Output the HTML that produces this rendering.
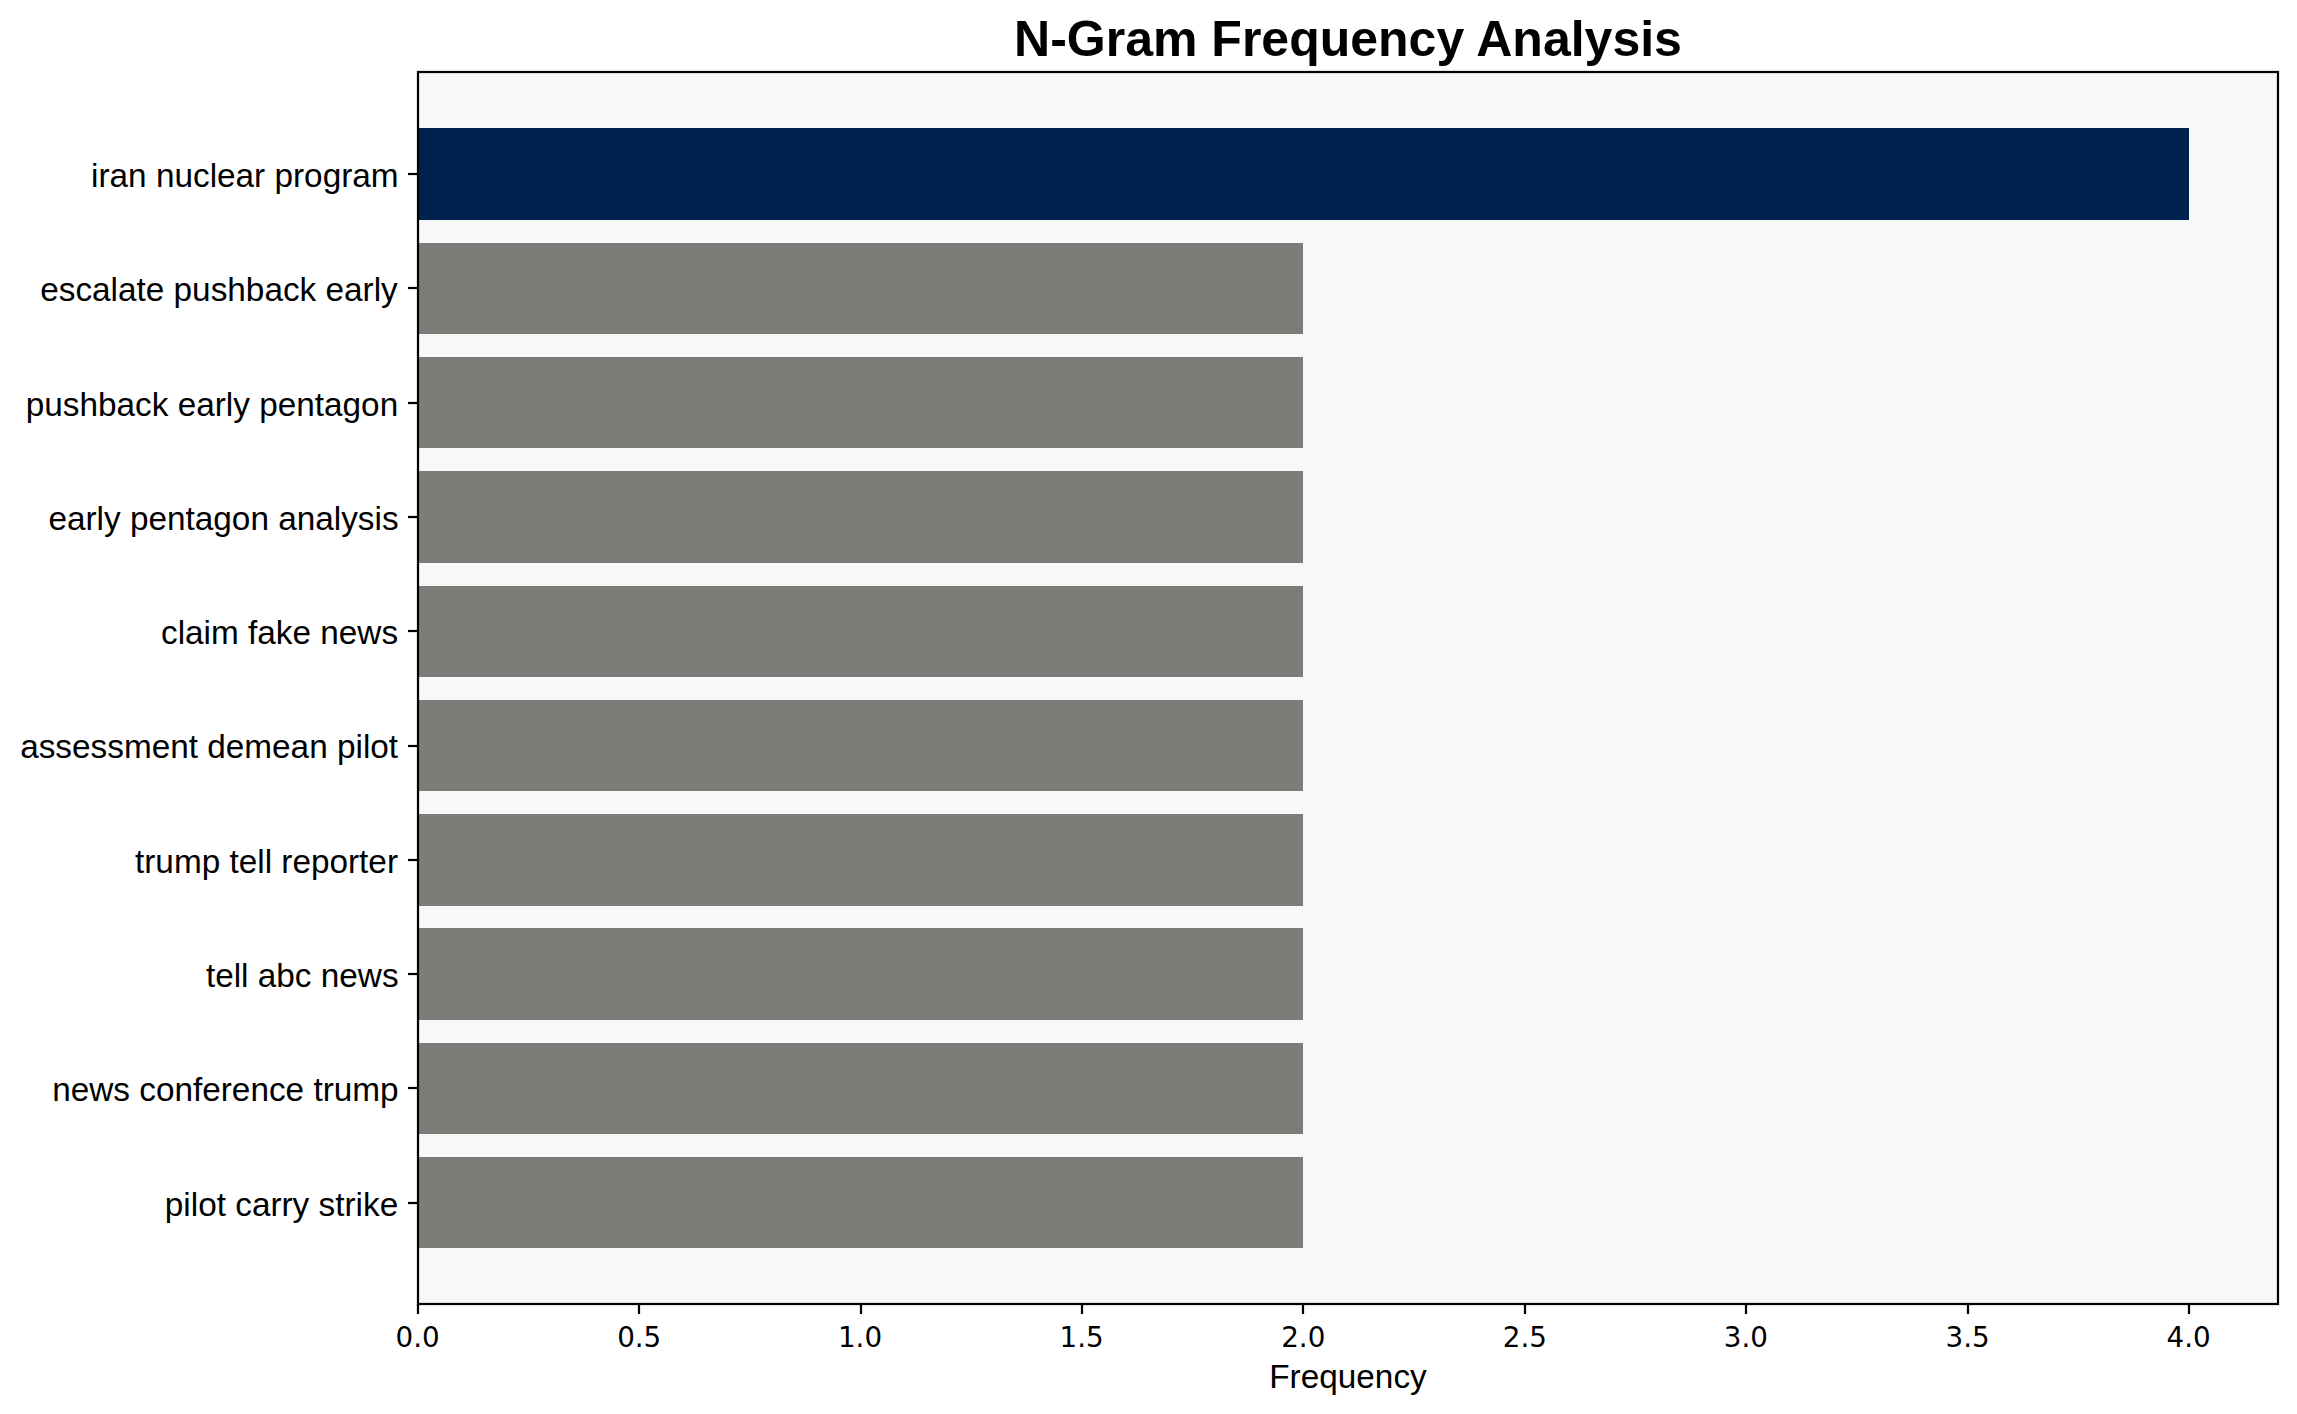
<!DOCTYPE html>
<html lang="en"><head><meta charset="utf-8"><title>N-Gram Frequency Analysis</title>
<style>
html,body{margin:0;padding:0;background:#fff;}
body{width:2297px;height:1414px;overflow:hidden;}
svg{display:block;}
text{fill:#000;}
.yl{font-family:"Liberation Sans",Arial,sans-serif;font-size:33.33px;text-anchor:end;}
.xl{font-family:"DejaVu Sans","Liberation Sans",sans-serif;font-size:27.78px;text-anchor:middle;}
.ax{font-family:"Liberation Sans",Arial,sans-serif;font-size:33.33px;text-anchor:middle;}
.tt{font-family:"Liberation Sans",Arial,sans-serif;font-size:50px;font-weight:bold;text-anchor:middle;}
</style></head><body>
<svg width="2297" height="1414" viewBox="0 0 2297 1414">
<rect x="0" y="0" width="2297" height="1414" fill="#ffffff"/>
<rect x="418" y="72" width="1860" height="1232" fill="#f8f8f8"/>
<g shape-rendering="crispEdges">
<rect x="418" y="128" width="1771" height="92" fill="#00224e"/>
<rect x="418" y="243" width="885" height="91" fill="#7d7c78"/>
<rect x="418" y="357" width="885" height="91" fill="#7d7c78"/>
<rect x="418" y="471" width="885" height="92" fill="#7d7c78"/>
<rect x="418" y="586" width="885" height="91" fill="#7d7c78"/>
<rect x="418" y="700" width="885" height="91" fill="#7d7c78"/>
<rect x="418" y="814" width="885" height="92" fill="#7d7c78"/>
<rect x="418" y="928" width="885" height="92" fill="#7d7c78"/>
<rect x="418" y="1043" width="885" height="91" fill="#7d7c78"/>
<rect x="418" y="1157" width="885" height="91" fill="#7d7c78"/>
</g>
<g stroke="#000" stroke-width="2.22" fill="none">
<line x1="408" y1="174" x2="418" y2="174"/>
<line x1="408" y1="288" x2="418" y2="288"/>
<line x1="408" y1="403" x2="418" y2="403"/>
<line x1="408" y1="517" x2="418" y2="517"/>
<line x1="408" y1="631" x2="418" y2="631"/>
<line x1="408" y1="746" x2="418" y2="746"/>
<line x1="408" y1="860" x2="418" y2="860"/>
<line x1="408" y1="974" x2="418" y2="974"/>
<line x1="408" y1="1088" x2="418" y2="1088"/>
<line x1="408" y1="1203" x2="418" y2="1203"/>
<line x1="418" y1="1304" x2="418" y2="1314"/>
<line x1="639" y1="1304" x2="639" y2="1314"/>
<line x1="861" y1="1304" x2="861" y2="1314"/>
<line x1="1082" y1="1304" x2="1082" y2="1314"/>
<line x1="1303" y1="1304" x2="1303" y2="1314"/>
<line x1="1525" y1="1304" x2="1525" y2="1314"/>
<line x1="1746" y1="1304" x2="1746" y2="1314"/>
<line x1="1968" y1="1304" x2="1968" y2="1314"/>
<line x1="2189" y1="1304" x2="2189" y2="1314"/>
<rect x="418" y="72" width="1860" height="1232"/>
</g>
<text class="yl" x="398.60" y="187.00">iran nuclear program</text>
<text class="yl" x="397.75" y="301.00">escalate pushback early</text>
<text class="yl" x="398.20" y="416.00">pushback early pentagon</text>
<text class="yl" x="398.60" y="530.00">early pentagon analysis</text>
<text class="yl" x="398.10" y="644.00">claim fake news</text>
<text class="yl" x="398.10" y="758.00">assessment demean pilot</text>
<text class="yl" x="398.00" y="873.00">trump tell reporter</text>
<text class="yl" x="398.60" y="987.00">tell abc news</text>
<text class="yl" x="398.60" y="1101.00">news conference trump</text>
<text class="yl" x="398.20" y="1216.00">pilot carry strike</text>
<text class="xl" x="417.59" y="1346.60">0.0</text>
<text class="xl" x="639.22" y="1346.60">0.5</text>
<text class="xl" x="860.05" y="1346.60">1.0</text>
<text class="xl" x="1081.66" y="1346.60">1.5</text>
<text class="xl" x="1303.30" y="1346.60">2.0</text>
<text class="xl" x="1524.90" y="1346.60">2.5</text>
<text class="xl" x="1745.91" y="1346.60">3.0</text>
<text class="xl" x="1967.57" y="1346.60">3.5</text>
<text class="xl" x="2188.66" y="1346.60">4.0</text>
<text class="ax" x="1348.00" y="1387.90">Frequency</text>
<text class="tt" x="1348.00" y="56.40">N-Gram Frequency Analysis</text>
</svg></body></html>
